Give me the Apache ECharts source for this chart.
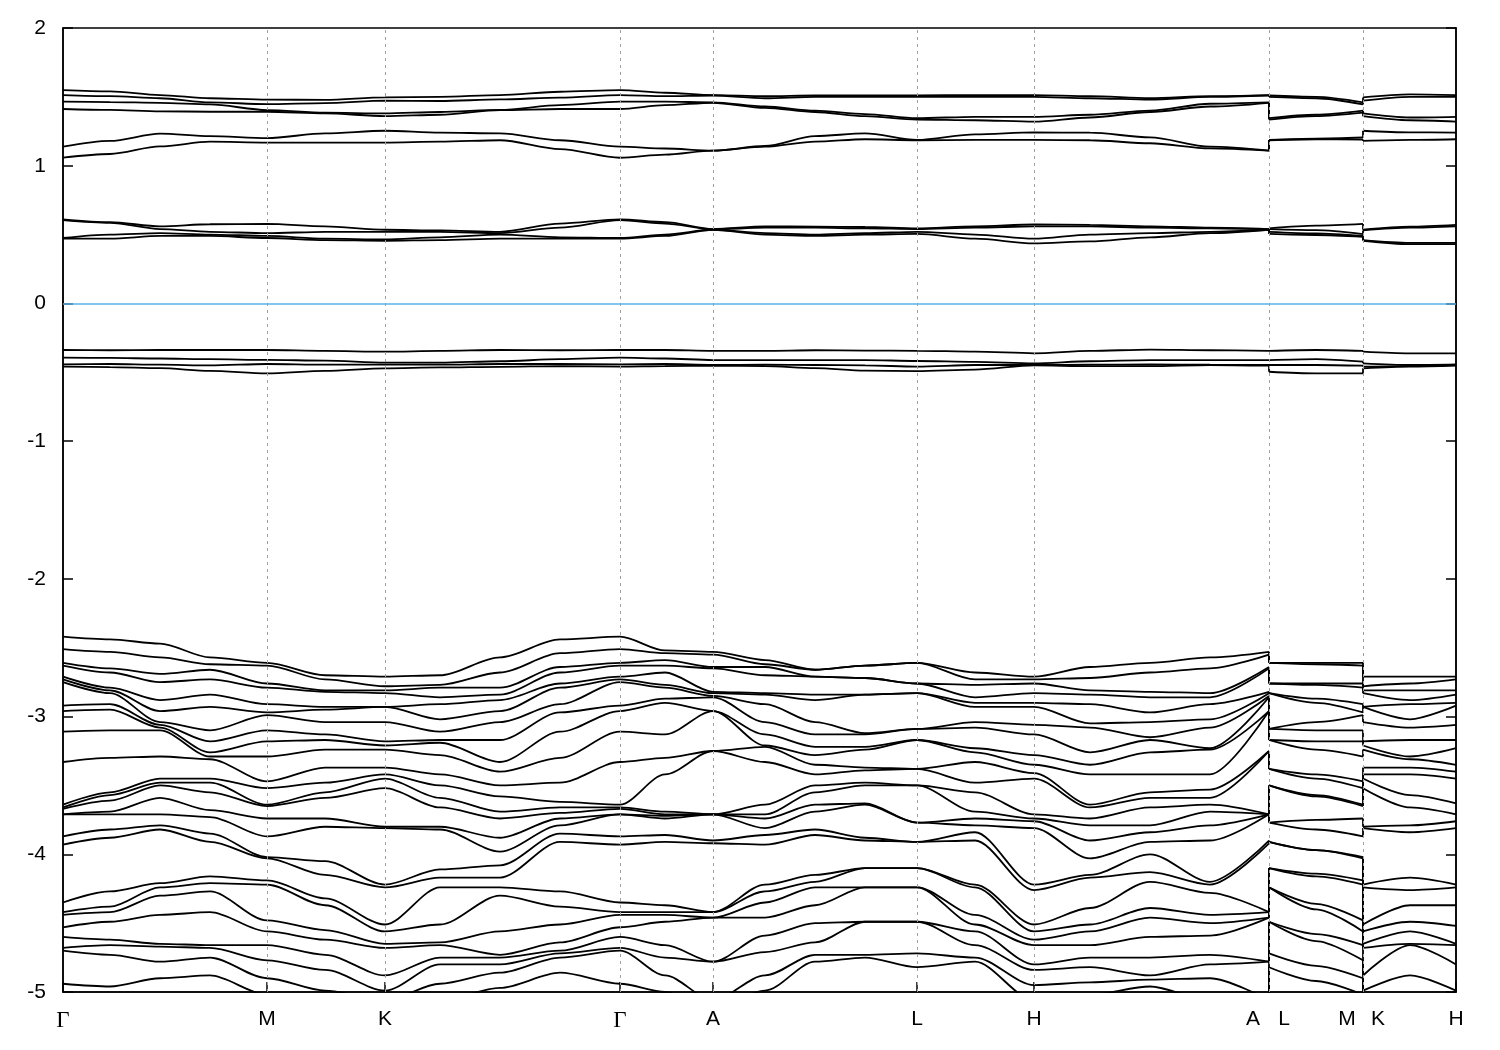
<!DOCTYPE html>
<html><head><meta charset="utf-8">
<script src="https://cdn.jsdelivr.net/npm/echarts@6/dist/echarts.min.js"></script>
<style>html,body{margin:0;padding:0;background:#fff}#c{width:1500px;height:1050px}</style>
</head><body><div id="c"></div>
<script>
// k-path positions (path length units)
const kPath1 = [0,47,97,147,204,262,322,377,437,497,557,602,650,702,752,802,854,912,971,1027,1087,1147,1206];
const kPath2 = [1206,1253,1300];
const kPath3 = [1300,1347,1393];
const kTicks = [0,204,322,557,650,854,971,1206,1300,1393];
const kTickLabels = ['Γ','M','K','Γ','A','L','H','A|L','M|K','H'];
const yTicks = [-5,-4,-3,-2,-1,0,1,2];

// rows = k-points, columns = bands (eV)
const condHigh1 = [
 [1.549,1.513,1.465,1.412],[1.54,1.505,1.462,1.405],[1.513,1.49,1.457,1.395],[1.49,1.46,1.445,1.392],
 [1.48,1.447,1.404,1.392],[1.478,1.455,1.385,1.38],[1.496,1.472,1.38,1.36],[1.50,1.47,1.39,1.37],
 [1.513,1.481,1.405,1.404],[1.537,1.495,1.44,1.412],[1.549,1.513,1.465,1.412],[1.53,1.505,1.465,1.44],
 [1.513,1.51,1.46,1.457],[1.505,1.49,1.43,1.42],[1.51,1.50,1.40,1.39],[1.51,1.50,1.375,1.36],
 [1.51,1.50,1.345,1.335],[1.513,1.50,1.355,1.33],[1.513,1.50,1.355,1.32],[1.505,1.49,1.37,1.35],
 [1.49,1.48,1.40,1.39],[1.505,1.50,1.45,1.43],[1.513,1.51,1.46,1.457]];
const condHigh2 = [[1.51,1.50,1.345,1.335],[1.50,1.49,1.37,1.36],[1.46,1.445,1.40,1.385]];
const condHigh3 = [[1.496,1.472,1.38,1.36],[1.518,1.50,1.35,1.33],[1.513,1.50,1.355,1.32]];

const condLow1 = [
 [1.138,1.058],[1.18,1.085],[1.233,1.14],[1.215,1.175],[1.20,1.168],[1.235,1.168],[1.254,1.168],
 [1.24,1.175],[1.235,1.185],[1.185,1.12],[1.138,1.058],[1.125,1.08],[1.109,1.109],[1.143,1.138],
 [1.215,1.175],[1.235,1.192],[1.187,1.185],[1.228,1.187],[1.242,1.187],[1.24,1.185],[1.206,1.163],
 [1.138,1.126],[1.109,1.109]];
const condLow2 = [[1.187,1.185],[1.197,1.192],[1.205,1.19]];
const condLow3 = [[1.254,1.18],[1.242,1.187],[1.24,1.192]];

const condMid1 = [
 [0.611,0.605,0.475,0.47],[0.59,0.585,0.50,0.47],[0.56,0.54,0.51,0.49],[0.575,0.52,0.50,0.49],
 [0.577,0.51,0.49,0.475],[0.56,0.52,0.47,0.46],[0.535,0.52,0.465,0.455],[0.53,0.52,0.48,0.46],
 [0.52,0.51,0.50,0.47],[0.58,0.55,0.48,0.47],[0.611,0.605,0.475,0.47],[0.59,0.58,0.50,0.49],
 [0.54,0.538,0.535,0.535],[0.56,0.55,0.51,0.50],[0.557,0.55,0.50,0.49],[0.555,0.545,0.51,0.50],
 [0.545,0.54,0.52,0.505],[0.56,0.55,0.50,0.47],[0.573,0.56,0.47,0.436],[0.57,0.56,0.50,0.45],
 [0.56,0.55,0.51,0.48],[0.55,0.545,0.52,0.51],[0.54,0.538,0.535,0.535]];
const condMid2 = [[0.545,0.54,0.52,0.505],[0.565,0.533,0.509,0.497],[0.577,0.504,0.49,0.484]];
const condMid3 = [[0.535,0.53,0.46,0.455],[0.557,0.55,0.44,0.43],[0.57,0.56,0.44,0.43]];

const valTop1 = [
 [-0.338,-0.394,-0.443,-0.459],[-0.34,-0.396,-0.44,-0.462],[-0.338,-0.40,-0.445,-0.47],[-0.338,-0.405,-0.45,-0.49],
 [-0.338,-0.41,-0.44,-0.508],[-0.345,-0.415,-0.445,-0.49],[-0.35,-0.43,-0.445,-0.471],[-0.345,-0.43,-0.445,-0.465],
 [-0.338,-0.42,-0.44,-0.46],[-0.34,-0.405,-0.44,-0.455],[-0.338,-0.394,-0.443,-0.459],[-0.338,-0.40,-0.44,-0.455],
 [-0.344,-0.411,-0.447,-0.452],[-0.344,-0.411,-0.445,-0.455],[-0.34,-0.411,-0.447,-0.47],[-0.342,-0.411,-0.45,-0.488],
 [-0.344,-0.418,-0.459,-0.491],[-0.35,-0.425,-0.447,-0.48],[-0.362,-0.435,-0.447,-0.45],[-0.345,-0.42,-0.445,-0.455],
 [-0.335,-0.411,-0.443,-0.455],[-0.34,-0.411,-0.445,-0.447],[-0.344,-0.411,-0.447,-0.452]];
const valTop2 = [[-0.344,-0.411,-0.447,-0.496],[-0.338,-0.404,-0.447,-0.508],[-0.344,-0.423,-0.452,-0.508]];
const valTop3 = [[-0.35,-0.435,-0.459,-0.471],[-0.362,-0.447,-0.455,-0.459],[-0.362,-0.443,-0.447,-0.452]];

const valDeep1 = [
 [-2.42,-2.51,-2.61,-2.63,-2.71,-2.73,-2.75,-2.92,-2.96,-3.11,-3.33,-3.64,-3.66,-3.67,-3.71,-3.71,-3.87,-3.93,-4.35,-4.42,-4.44,-4.53,-4.60,-4.68,-4.70,-4.94],
 [-2.44,-2.53,-2.65,-2.68,-2.79,-2.81,-2.83,-2.91,-2.95,-3.10,-3.30,-3.55,-3.57,-3.61,-3.69,-3.71,-3.82,-3.88,-4.27,-4.38,-4.42,-4.49,-4.62,-4.66,-4.73,-4.96],
 [-2.47,-2.57,-2.69,-2.75,-2.88,-2.96,-3.04,-3.06,-3.08,-3.10,-3.29,-3.45,-3.48,-3.50,-3.59,-3.71,-3.79,-3.82,-4.21,-4.24,-4.30,-4.44,-4.65,-4.67,-4.78,-4.90],
 [-2.57,-2.62,-2.66,-2.73,-2.84,-2.93,-3.10,-3.18,-3.26,-3.29,-3.31,-3.45,-3.48,-3.55,-3.68,-3.73,-3.85,-3.91,-4.16,-4.21,-4.27,-4.42,-4.66,-4.68,-4.75,-4.88],
 [-2.61,-2.63,-2.76,-2.79,-2.91,-2.97,-2.99,-3.10,-3.18,-3.29,-3.47,-3.52,-3.64,-3.65,-3.74,-3.87,-4.02,-4.03,-4.19,-4.22,-4.48,-4.56,-4.66,-4.77,-4.90,-5.02],
 [-2.70,-2.73,-2.81,-2.82,-2.93,-2.95,-3.04,-3.13,-3.17,-3.24,-3.37,-3.48,-3.55,-3.59,-3.74,-3.80,-4.05,-4.15,-4.32,-4.37,-4.55,-4.62,-4.73,-4.84,-4.99,-5.09],
 [-2.71,-2.78,-2.81,-2.83,-2.93,-2.93,-3.04,-3.18,-3.21,-3.24,-3.37,-3.42,-3.45,-3.52,-3.80,-3.81,-4.22,-4.24,-4.51,-4.56,-4.65,-4.68,-4.88,-4.99,-5.06,-5.13],
 [-2.70,-2.77,-2.79,-2.86,-2.91,-3.02,-3.11,-3.17,-3.19,-3.28,-3.42,-3.50,-3.59,-3.66,-3.80,-3.82,-4.11,-4.17,-4.24,-4.51,-4.64,-4.66,-4.75,-4.80,-4.94,-5.06],
 [-2.57,-2.68,-2.79,-2.84,-2.88,-2.96,-3.04,-3.17,-3.33,-3.40,-3.50,-3.58,-3.69,-3.74,-3.88,-3.98,-4.08,-4.17,-4.24,-4.30,-4.56,-4.73,-4.75,-4.80,-4.86,-4.97],
 [-2.44,-2.54,-2.64,-2.68,-2.76,-2.79,-2.91,-2.97,-3.11,-3.30,-3.48,-3.62,-3.66,-3.70,-3.74,-3.79,-3.85,-3.91,-4.27,-4.38,-4.51,-4.64,-4.70,-4.72,-4.75,-4.86],
 [-2.42,-2.51,-2.61,-2.63,-2.71,-2.73,-2.75,-2.92,-2.96,-3.11,-3.33,-3.64,-3.66,-3.67,-3.71,-3.71,-3.87,-3.93,-4.35,-4.42,-4.44,-4.53,-4.60,-4.68,-4.70,-4.94],
 [-2.52,-2.54,-2.59,-2.63,-2.68,-2.77,-2.79,-2.87,-2.90,-3.13,-3.30,-3.42,-3.69,-3.71,-3.72,-3.74,-3.86,-3.91,-4.37,-4.42,-4.44,-4.49,-4.66,-4.75,-4.88,-5.00],
 [-2.53,-2.55,-2.64,-2.65,-2.82,-2.83,-2.85,-2.86,-2.96,-2.96,-3.25,-3.25,-3.71,-3.71,-3.71,-3.71,-3.90,-3.92,-4.42,-4.42,-4.46,-4.46,-4.78,-4.78,-5.06,-5.13],
 [-2.59,-2.62,-2.64,-2.70,-2.83,-2.84,-2.91,-3.04,-3.13,-3.21,-3.22,-3.33,-3.64,-3.71,-3.74,-3.81,-3.86,-3.93,-4.22,-4.27,-4.35,-4.46,-4.59,-4.71,-4.88,-4.99],
 [-2.66,-2.66,-2.71,-2.71,-2.84,-2.88,-3.04,-3.13,-3.22,-3.28,-3.35,-3.42,-3.50,-3.55,-3.64,-3.69,-3.82,-3.86,-4.15,-4.20,-4.24,-4.37,-4.50,-4.64,-4.73,-4.78],
 [-2.63,-2.63,-2.72,-2.72,-2.84,-2.84,-3.12,-3.13,-3.22,-3.24,-3.37,-3.39,-3.48,-3.50,-3.63,-3.64,-3.88,-3.90,-4.10,-4.10,-4.24,-4.24,-4.49,-4.49,-4.73,-4.75],
 [-2.61,-2.61,-2.76,-2.76,-2.83,-2.83,-3.09,-3.09,-3.17,-3.17,-3.38,-3.38,-3.50,-3.50,-3.77,-3.77,-3.91,-3.91,-4.10,-4.10,-4.24,-4.24,-4.49,-4.49,-4.72,-4.82],
 [-2.68,-2.73,-2.77,-2.86,-2.90,-2.93,-3.04,-3.08,-3.23,-3.26,-3.33,-3.48,-3.55,-3.69,-3.74,-3.79,-3.84,-3.90,-4.22,-4.24,-4.44,-4.51,-4.56,-4.66,-4.75,-4.78],
 [-2.71,-2.73,-2.76,-2.83,-2.90,-2.93,-3.06,-3.13,-3.28,-3.35,-3.41,-3.45,-3.71,-3.74,-3.76,-3.81,-4.22,-4.26,-4.51,-4.56,-4.62,-4.66,-4.80,-4.84,-4.95,-5.06],
 [-2.64,-2.72,-2.81,-2.84,-2.91,-3.05,-3.08,-3.26,-3.35,-3.42,-3.64,-3.66,-3.74,-3.79,-3.90,-4.03,-4.15,-4.17,-4.39,-4.51,-4.56,-4.66,-4.75,-4.82,-4.93,-5.02],
 [-2.61,-2.68,-2.82,-2.86,-2.97,-3.04,-3.15,-3.17,-3.26,-3.42,-3.55,-3.59,-3.66,-3.79,-3.84,-3.91,-4.00,-4.13,-4.20,-4.39,-4.46,-4.60,-4.75,-4.88,-4.91,-4.96],
 [-2.57,-2.65,-2.83,-2.86,-2.91,-3.02,-3.08,-3.23,-3.24,-3.42,-3.53,-3.59,-3.64,-3.69,-3.79,-3.90,-4.20,-4.22,-4.28,-4.44,-4.50,-4.59,-4.73,-4.80,-4.90,-5.06],
 [-2.53,-2.55,-2.64,-2.65,-2.82,-2.83,-2.85,-2.86,-2.96,-2.96,-3.25,-3.25,-3.71,-3.71,-3.71,-3.71,-3.90,-3.92,-4.42,-4.42,-4.46,-4.46,-4.78,-4.78,-5.06,-5.13]];
const valDeep2 = [
 [-2.61,-2.61,-2.76,-2.76,-2.83,-2.83,-3.09,-3.09,-3.17,-3.17,-3.38,-3.38,-3.50,-3.50,-3.77,-3.77,-3.91,-3.91,-4.10,-4.10,-4.24,-4.24,-4.49,-4.49,-4.72,-4.82],
 [-2.61,-2.62,-2.76,-2.77,-2.87,-2.90,-3.04,-3.10,-3.18,-3.24,-3.42,-3.45,-3.57,-3.58,-3.75,-3.82,-3.97,-3.97,-4.14,-4.16,-4.36,-4.40,-4.58,-4.63,-4.81,-4.92],
 [-2.61,-2.63,-2.76,-2.79,-2.91,-2.97,-2.99,-3.10,-3.18,-3.29,-3.47,-3.52,-3.64,-3.65,-3.74,-3.87,-4.02,-4.03,-4.19,-4.22,-4.48,-4.56,-4.66,-4.77,-4.90,-5.02]];
const valDeep3 = [
 [-2.71,-2.78,-2.81,-2.83,-2.93,-2.93,-3.04,-3.18,-3.21,-3.24,-3.37,-3.42,-3.45,-3.52,-3.80,-3.81,-4.22,-4.24,-4.51,-4.56,-4.65,-4.68,-4.88,-4.99,-5.06,-5.13],
 [-2.71,-2.76,-2.81,-2.88,-2.91,-3.02,-3.08,-3.17,-3.29,-3.31,-3.37,-3.42,-3.57,-3.66,-3.79,-3.84,-4.17,-4.26,-4.37,-4.49,-4.56,-4.65,-4.66,-4.88,-5.02,-5.13],
 [-2.71,-2.73,-2.81,-2.84,-2.90,-2.92,-3.06,-3.17,-3.23,-3.35,-3.40,-3.45,-3.63,-3.71,-3.76,-3.81,-4.22,-4.24,-4.37,-4.52,-4.65,-4.66,-4.80,-4.99,-5.09,-5.13]];

// ---------- build ----------
const paths = [kPath1, kPath2, kPath3];
const groups = [
  [condHigh1, condHigh2, condHigh3],
  [condLow1, condLow2, condLow3],
  [condMid1, condMid2, condMid3],
  [valTop1, valTop2, valTop3],
  [valDeep1, valDeep2, valDeep3]
];
const LINE = {color: '#000', width: 1.8};
const series = [];
function transpose(rows) {
  const out = [];
  for (let b = 0; b < rows[0].length; b++) out.push(rows.map(r => r[b]));
  return out;
}
groups.forEach(g => {
  g.forEach((rows, si) => {
    transpose(rows).forEach(band => {
      series.push({
        type: 'line', data: band.map((e, i) => [paths[si][i], e]),
        smooth: 0.3, smoothMonotone: 'x', symbol: 'none', showSymbol: false,
        lineStyle: LINE, silent: true, animation: false, clip: true, z: 3
      });
    });
  });
  // vertical jumps at the path discontinuities
  for (let s = 0; s < 2; s++) {
    const a = g[s][g[s].length - 1], b = g[s + 1][0], kx = paths[s + 1][0];
    for (let i = 0; i < a.length; i++) {
      if (Math.abs(a[i] - b[i]) > 0.004) {
        series.push({type: 'line', data: [[kx, a[i]], [kx, b[i]]], symbol: 'none', showSymbol: false,
          lineStyle: LINE, silent: true, animation: false, clip: true, z: 3});
      }
    }
  }
});

// reference lines: high-symmetry verticals + Fermi level
const interior = kTicks.slice(1, -1);
series.push({
  type: 'line', data: [], silent: true, animation: false, z: 1,
  markLine: {
    symbol: 'none', silent: true, animation: false, label: {show: false},
    data: interior.map(v => ({xAxis: v, lineStyle: {color: '#a0a0a0', type: [3, 4], width: 1}}))
      .concat([{yAxis: 0, lineStyle: {color: '#56b4e9', type: 'solid', width: 1.5}}])
  }
});

// x labels: split "A|L" and "M|K" into two labels either side of the tick
const SPLIT = 15;
const labelVals = [], labelText = {};
kTicks.forEach((v, i) => {
  const t = kTickLabels[i];
  if (t.indexOf('|') >= 0) {
    const [l, r] = t.split('|');
    labelVals.push(v - SPLIT - 1, v + SPLIT);
    labelText[v - SPLIT - 1] = l; labelText[v + SPLIT] = r;
  } else { labelVals.push(v); labelText[v] = t; }
});

const FONT = 'Liberation Sans';
const chart = echarts.init(document.getElementById('c'), null, {renderer: 'canvas'});
chart.setOption({
  backgroundColor: '#fff',
  animation: false,
  grid: {left: 63, right: 44, top: 28, bottom: 58, show: true, borderColor: '#000', borderWidth: 1.5, containLabel: false},
  xAxis: {
    type: 'value', min: kTicks[0], max: kTicks[kTicks.length - 1],
    axisLine: {show: true, onZero: false, lineStyle: {color: '#000', width: 1.5}},
    axisTick: {show: true, inside: true, length: 10, customValues: kTicks, lineStyle: {color: '#000', width: 1.5}},
    axisLabel: {
      customValues: labelVals, margin: 17, color: '#000', fontSize: 21, fontFamily: FONT,
      formatter: v => {
        const key = Object.keys(labelText).find(k => Math.abs(+k - v) < 0.5);
        const t = key !== undefined ? labelText[key] : '';
        return t === 'Γ' ? '{g|Γ}' : t;
      },
      rich: {g: {fontFamily: 'Liberation Serif', fontSize: 23, color: '#000'}}
    },
    splitLine: {show: false}
  },
  yAxis: [{
    type: 'value', min: yTicks[0], max: yTicks[yTicks.length - 1], interval: 1,
    axisLine: {show: true, lineStyle: {color: '#000', width: 1.5}},
    axisTick: {show: true, inside: true, length: 10, lineStyle: {color: '#000', width: 1.5}},
    axisLabel: {color: '#000', fontSize: 21, fontFamily: FONT, margin: 17},
    splitLine: {show: false}
  }, {
    type: 'value', position: 'right', min: yTicks[0], max: yTicks[yTicks.length - 1], interval: 1,
    axisLine: {show: true, lineStyle: {color: '#000', width: 1.5}},
    axisTick: {show: true, inside: true, length: 10, lineStyle: {color: '#000', width: 1.5}},
    axisLabel: {show: false}, splitLine: {show: false}
  }],
  series: series
});
</script></body></html>
